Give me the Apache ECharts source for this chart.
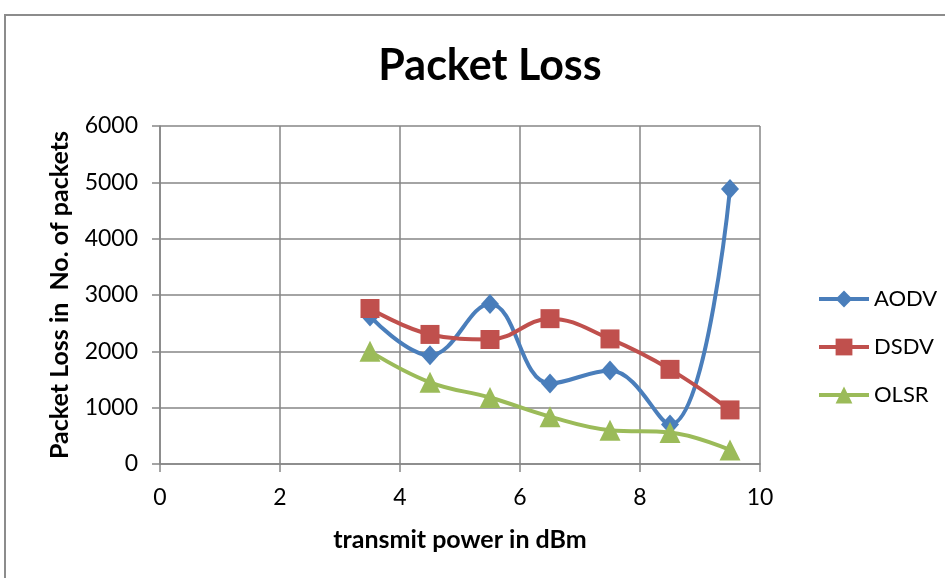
<!DOCTYPE html>
<html>
<head>
<meta charset="utf-8">
<script src="https://cdn.jsdelivr.net/npm/echarts@6/dist/echarts.min.js"></script>
<style>
  html, body { margin: 0; padding: 0; background: #fff; }
  #chart { width: 945px; height: 578px; }
</style>
</head>
<body>
<div id="chart"></div>
<script>
// Transmit power levels (dBm) shared by every protocol
const power = [3.5, 4.5, 5.5, 6.5, 7.5, 8.5, 9.5];

// Packet loss (number of packets) per routing protocol
const aodv = [2620, 1930, 2840, 1430, 1660, 700, 4880];
const dsdv = [2760, 2300, 2210, 2580, 2220, 1680, 960];
const olsr = [2000, 1450, 1180, 840, 600, 560, 250];

const seriesNames = ['AODV', 'DSDV', 'OLSR'];
const seriesColors = ['#4a7ebb', '#c0504d', '#9bbb59'];
const seriesSymbols = ['diamond', 'rect', 'triangle'];
const seriesSizes = [[18, 20], 19, 21];

const font = 'Lato, "Open Sans", sans-serif';

function pairs(values) {
  return power.map((x, i) => [x, values[i]]);
}

const chart = echarts.init(document.getElementById('chart'), null, { renderer: 'canvas' });

chart.setOption({
  backgroundColor: '#ffffff',
  animation: false,
  graphic: [{
    type: 'rect',
    shape: { x: 5, y: 15, width: 1000, height: 700 },
    style: { fill: 'none', stroke: '#8c8c8c', lineWidth: 2 },
    silent: true,
    z: -1
  }],
  title: {
    text: 'Packet Loss',
    left: 485,
    textAlign: 'center',
    top: 40,
    textStyle: { fontFamily: font, fontSize: 43, fontWeight: 'bold', color: '#000' }
  },
  legend: {
    orient: 'vertical',
    left: 812,
    top: 283,
    itemWidth: 50,
    itemHeight: 21,
    itemGap: 26,
    data: seriesNames,
    lineStyle: { width: 4 },
    textStyle: { fontFamily: font, fontSize: 22, color: '#000', padding: [0, 0, 0, 0] }
  },
  grid: { left: 160, top: 126, width: 600, height: 338, containLabel: false },
  xAxis: {
    type: 'value',
    min: 0,
    max: 10,
    interval: 2,
    name: 'transmit power in dBm',
    nameLocation: 'middle',
    nameGap: 63,
    nameTextStyle: { fontFamily: font, fontSize: 25, fontWeight: 'bold', color: '#000' },
    axisLine: { show: true, lineStyle: { color: '#868686', width: 1.5 } },
    axisTick: { show: true, length: 8, lineStyle: { color: '#868686', width: 1.5 } },
    axisLabel: { fontFamily: font, fontSize: 23, color: '#000', margin: 22 },
    splitLine: { show: true, lineStyle: { color: '#868686', width: 1.5 } }
  },
  yAxis: {
    type: 'value',
    min: 0,
    max: 6000,
    interval: 1000,
    name: 'Packet Loss in  No. of packets',
    nameLocation: 'middle',
    nameGap: 88,
    nameRotate: 90,
    nameTextStyle: { fontFamily: font, fontSize: 25, fontWeight: 'bold', color: '#000' },
    axisLine: { show: true, lineStyle: { color: '#868686', width: 1.5 } },
    axisTick: { show: true, length: 8, lineStyle: { color: '#868686', width: 1.5 } },
    axisLabel: {
      fontFamily: font, fontSize: 23, color: '#000', margin: 22,
      formatter: (v) => String(v)
    },
    splitLine: { show: true, lineStyle: { color: '#868686', width: 1.5 } }
  },
  series: [aodv, dsdv, olsr].map((values, i) => ({
    name: seriesNames[i],
    type: 'line',
    data: pairs(values),
    smooth: 0.4,
    symbol: seriesSymbols[i],
    symbolSize: seriesSizes[i],
    lineStyle: { color: seriesColors[i], width: 4 },
    itemStyle: { color: seriesColors[i] },
    z: 3 + i
  }))
});
</script>
</body>
</html>
